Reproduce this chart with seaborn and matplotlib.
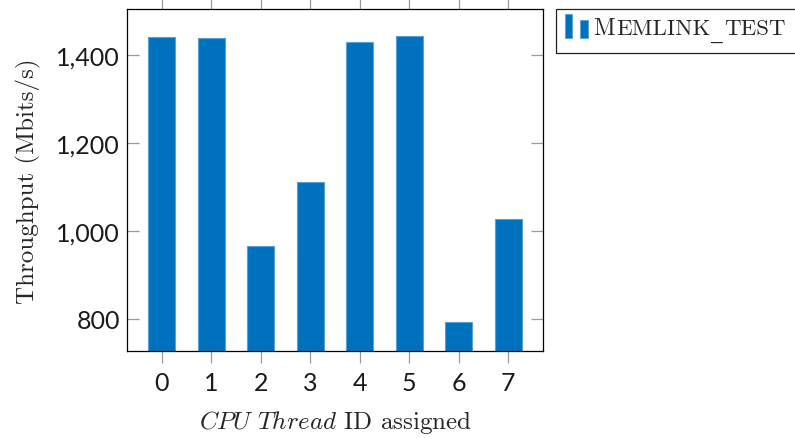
import numpy as np
import pandas as pd
import matplotlib
matplotlib.use('Agg')
import matplotlib.pyplot as plt
import seaborn as sns
from matplotlib.patches import Rectangle
from matplotlib.legend_handler import HandlerBase
from matplotlib.ticker import StrMethodFormatter
from matplotlib.transforms import IdentityTransform

# data
threads = ['0', '1', '2', '3', '4', '5', '6', '7']
throughput = [1441, 1438, 965, 1111, 1429, 1444, 793, 1028]
series_name = 'Memlink_test'
y_ticks = [800, 1000, 1200, 1400]

BAR_COLOR = '#0072BD'
EDGE_COLOR = '#5aa0d6'
TICK_COLOR = '#9a9a9a'
SERIF = ['cmr10', 'DejaVu Serif']

sns.set_theme(style='white')
plt.rcParams['font.family'] = SERIF
plt.rcParams['mathtext.fontset'] = 'cm'
plt.rcParams['axes.unicode_minus'] = False

df = pd.DataFrame({'thread': threads, 'throughput': throughput})

fig = plt.figure(figsize=(7.95, 4.39), dpi=100)
ax = fig.add_axes([127 / 795, 87 / 439, 416 / 795, 342 / 439])

sns.barplot(data=df, x='thread', y='throughput', color=BAR_COLOR, saturation=1,
            width=0.55, errorbar=None, edgecolor=EDGE_COLOR, linewidth=0.8, ax=ax)

ax.set_xlim(-0.7, 7.7)
ax.set_ylim(727, 1505)
ax.set_yticks(y_ticks)
ax.yaxis.set_major_formatter(StrMethodFormatter('{x:,.0f}'))

for s in ax.spines.values():
    s.set_color('black')
    s.set_linewidth(0.9)

ax.tick_params(axis='x', direction='out', top=True, bottom=True, length=8.5, width=0.9,
               color=TICK_COLOR, pad=6)
ax.tick_params(axis='y', direction='in', left=True, right=True, length=8.5, width=0.9,
               color=TICK_COLOR, pad=5)
for lab in ax.get_xticklabels() + ax.get_yticklabels():
    lab.set_fontfamily('Lato')
    lab.set_fontweight('normal')
    lab.set_fontsize(18)
    lab.set_color('#1a1a1a')

ax.set_xlabel(r'$\mathit{CPU\ Thread}$ ID assigned', fontsize=18, labelpad=10)
ax.set_ylabel('Throughput (Mbits/s)', fontsize=18, labelpad=11)


class TwoBarHandler(HandlerBase):
    def create_artists(self, legend, orig_handle, xdescent, ydescent, width, height,
                       fontsize, trans):
        x0, y0 = -xdescent, -ydescent
        left = Rectangle((x0, y0), 0.3 * width, height, facecolor=BAR_COLOR,
                         edgecolor=EDGE_COLOR, lw=0.6, transform=trans)
        right = Rectangle((x0 + 0.62 * width, y0), 0.36 * width, 0.76 * height,
                          facecolor=BAR_COLOR, edgecolor=EDGE_COLOR, lw=0.6, transform=trans)
        return [left, right]


handle = Rectangle((0, 0), 1, 1, facecolor=BAR_COLOR)
leg = ax.legend([handle], [series_name[0]], handler_map={Rectangle: TwoBarHandler()},
                loc='upper left', bbox_to_anchor=(565 / 795, 1 - 15 / 439),
                bbox_transform=fig.transFigure, frameon=False, borderpad=0,
                borderaxespad=0, handlelength=1.0, handleheight=1.2,
                handletextpad=0.2, prop={'family': SERIF, 'size': 17})

# legend frame (cut by the right figure edge like the reference)
fig.add_artist(Rectangle((556 / 795, 1 - 54 / 439), 260 / 795, 44 / 439,
                         transform=fig.transFigure, fill=False, edgecolor='#222222',
                         lw=0.9, clip_on=False))

# rest of the label set in small caps style
fig.canvas.draw()
t = leg.get_texts()[0]
bx, by = t.get_transform().transform(t.get_position())
bb = t.get_window_extent()
rest = series_name[1:].upper().split('_')
x = bb.x1 + 1
for i, part in enumerate(rest):
    txt = fig.text(x, by, part, transform=IdentityTransform(), va='baseline', ha='left',
                   fontsize=16.5, family=SERIF)
    x = txt.get_window_extent(fig.canvas.get_renderer()).x1
    if i < len(rest) - 1:
        us = fig.text(x + 1, by - 2, '_', transform=IdentityTransform(), va='baseline',
                      ha='left', fontsize=17, family='DejaVu Serif')
        x = us.get_window_extent(fig.canvas.get_renderer()).x1 + 1

fig.savefig('out.png', dpi=100)
